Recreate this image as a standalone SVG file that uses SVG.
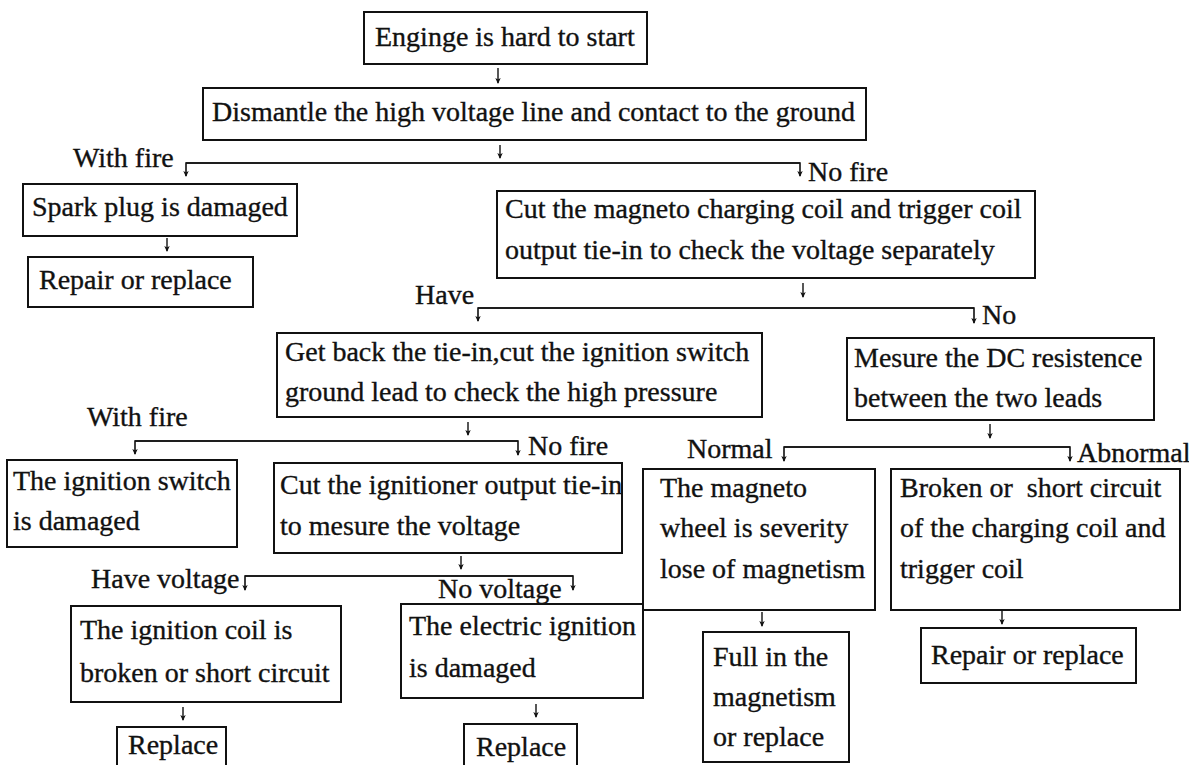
<svg xmlns="http://www.w3.org/2000/svg" width="1189" height="765" viewBox="0 0 1189 765">
<style>
.box{fill:#fff;stroke:#111;stroke-width:2}
.t{font-family:"Liberation Serif","Times New Roman",serif;font-size:28px;fill:#111;stroke:#111;stroke-width:0.35}
</style>
<defs>
<marker id="ad" markerUnits="userSpaceOnUse" markerWidth="8" markerHeight="8" refX="3" refY="7" viewBox="0 0 6 8">
<path d="M0.3,2 L3,8 L5.7,2 L3,3.5 Z" fill="#111"/>
</marker>
</defs>
<rect width="1189" height="765" fill="#fff"/>
<g id="connectors" fill="none" stroke="#111">
<g stroke-width="1.4" marker-end="url(#ad)">
<line x1="498" y1="68" x2="498" y2="83"/>
<line x1="500" y1="145" x2="500" y2="158"/>
<line x1="167" y1="238" x2="167" y2="251"/>
<line x1="803" y1="283" x2="803" y2="297"/>
<line x1="468" y1="422" x2="468" y2="435"/>
<line x1="990" y1="424" x2="990" y2="438"/>
<line x1="461" y1="556" x2="461" y2="569"/>
<line x1="762" y1="612" x2="762" y2="626"/>
<line x1="1002" y1="611" x2="1002" y2="624"/>
<line x1="183" y1="707" x2="183" y2="720"/>
<line x1="536" y1="704" x2="536" y2="717"/>
</g>
<g stroke-width="1.6" marker-end="url(#ad)">
<path d="M800,163 H186 V176"/>
<path d="M186,163 H800 V176"/>
<path d="M478,308 H974 V323"/>
<path d="M974,308 H478 V321"/>
<path d="M135,441 H518 V455"/>
<path d="M518,441 H135 V454"/>
<path d="M784,447 H1070 V461"/>
<path d="M1070,447 H784 V461"/>
<path d="M245,576 H573 V590"/>
<path d="M573,576 H245 V590"/>
</g>
</g>
<g class="t">
<text x="73" y="167">With fire</text>
<text x="808" y="181">No fire</text>
<text x="415" y="304">Have</text>
<text x="982" y="324">No</text>
<text x="87" y="426">With fire</text>
<text x="528" y="455">No fire</text>
<text x="687" y="458">Normal</text>
<text x="1077" y="462">Abnormal</text>
<text x="91" y="588">Have voltage</text>
<text x="438" y="598">No voltage</text>
</g>
<g id="n1"><rect class="box" x="364" y="12" width="283" height="52"/><text class="t" x="375" y="46">Enginge is hard to start</text></g>
<g id="n2"><rect class="box" x="203" y="88" width="663" height="52"/><text class="t" x="212" y="121">Dismantle the high voltage line and contact to the ground</text></g>
<g id="n3"><rect class="box" x="23" y="184" width="274" height="52"/><text class="t" x="32" y="216">Spark plug is damaged</text></g>
<g id="n4"><rect class="box" x="28" y="257" width="225" height="50"/><text class="t" x="39" y="289">Repair or replace</text></g>
<g id="n5"><rect class="box" x="497" y="191" width="538" height="87"/><text class="t" x="505" y="218">Cut the magneto charging coil and trigger coil</text><text class="t" x="505" y="259">output tie-in to check the voltage separately</text></g>
<g id="n6"><rect class="box" x="277" y="333" width="485" height="84"/><text class="t" x="285" y="361">Get back the tie-in,cut the ignition switch</text><text class="t" x="285" y="401">ground lead to check the high pressure</text></g>
<g id="n7"><rect class="box" x="847" y="338" width="307" height="82"/><text class="t" x="854" y="367">Mesure the DC resistence</text><text class="t" x="854" y="407">between the two leads</text></g>
<g id="n8"><rect class="box" x="7" y="460" width="230" height="87"/><text class="t" x="13" y="490">The ignition switch</text><text class="t" x="13" y="530">is damaged</text></g>
<g id="n9"><rect class="box" x="274" y="463" width="348" height="90"/><text class="t" x="280" y="494">Cut the ignitioner output tie-in</text><text class="t" x="280" y="535">to mesure the voltage</text></g>
<g id="n10"><rect class="box" x="643" y="469" width="232" height="141"/><text class="t" x="660" y="497">The magneto</text><text class="t" x="660" y="537">wheel is severity</text><text class="t" x="660" y="578">lose of magnetism</text></g>
<g id="n11"><rect class="box" x="891" y="469" width="289" height="141"/><text class="t" x="900" y="497" xml:space="preserve">Broken or  short circuit</text><text class="t" x="900" y="537">of the charging coil and</text><text class="t" x="900" y="578">trigger coil</text></g>
<g id="n12"><rect class="box" x="71" y="606" width="270" height="96"/><text class="t" x="80" y="639">The ignition coil is</text><text class="t" x="80" y="682">broken or short circuit</text></g>
<g id="n13"><rect class="box" x="401" y="604" width="242" height="94"/><text class="t" x="409" y="635">The electric ignition</text><text class="t" x="409" y="677">is damaged</text></g>
<g id="n14"><rect class="box" x="117" y="727" width="109" height="50"/><text class="t" x="128" y="754">Replace</text></g>
<g id="n15"><rect class="box" x="464" y="724" width="113" height="50"/><text class="t" x="476" y="756">Replace</text></g>
<g id="n16"><rect class="box" x="703" y="632" width="146" height="130"/><text class="t" x="713" y="666">Full in the</text><text class="t" x="713" y="706">magnetism</text><text class="t" x="713" y="746">or replace</text></g>
<g id="n17"><rect class="box" x="921" y="628" width="215" height="55"/><text class="t" x="931" y="664">Repair or replace</text></g>
</svg>
